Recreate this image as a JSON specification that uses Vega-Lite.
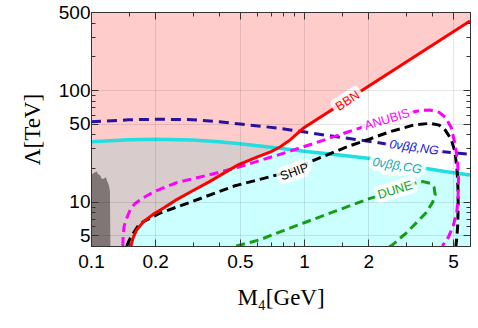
{
  "$schema": "https://vega.github.io/schema/vega-lite/v6.json",
  "width": 379,
  "height": 234,
  "autosize": {"type": "none"},
  "padding": {"left": 91, "top": 12, "right": 8, "bottom": 82},
  "background": "white",
  "config": {"view": {"stroke": "#3a3a3a", "strokeWidth": 1}},
  "datasets": {
    "bbn": [
      {"M": 0.1, "L": 4.0}, {"M": 0.154, "L": 4.0}, {"M": 0.158, "L": 4.8}, {"M": 0.164, "L": 5.6},
      {"M": 0.176, "L": 6.6}, {"M": 0.196, "L": 7.7}, {"M": 0.22, "L": 8.8}, {"M": 0.25, "L": 10.3},
      {"M": 0.3, "L": 12.5}, {"M": 0.36, "L": 15.1}, {"M": 0.42, "L": 18.0}, {"M": 0.49, "L": 21.3},
      {"M": 0.6, "L": 25.0}, {"M": 0.7, "L": 28.0}, {"M": 0.77, "L": 30.8}, {"M": 0.86, "L": 35.7},
      {"M": 0.99, "L": 45.4}, {"M": 6.0, "L": 415}
    ],
    "cg": [
      {"M": 0.1, "L": 34.4}, {"M": 0.15, "L": 35.8}, {"M": 0.2, "L": 36.2}, {"M": 0.3, "L": 35.6},
      {"M": 0.4, "L": 34.4}, {"M": 0.5, "L": 33.0}, {"M": 0.77, "L": 30.1}, {"M": 1.0, "L": 28.3},
      {"M": 1.5, "L": 26.0}, {"M": 2.04, "L": 24.3}, {"M": 2.7, "L": 22.3}, {"M": 3.5, "L": 20.2},
      {"M": 4.5, "L": 18.7}, {"M": 6.0, "L": 17.3}
    ],
    "overlap": [
      {"M": 0.1, "lo": 4.0, "hi": 34.4}, {"M": 0.15, "lo": 4.0, "hi": 35.8}, {"M": 0.154, "lo": 4.0, "hi": 35.85},
      {"M": 0.158, "lo": 4.8, "hi": 35.9}, {"M": 0.164, "lo": 5.6, "hi": 35.95}, {"M": 0.176, "lo": 6.6, "hi": 36.0},
      {"M": 0.196, "lo": 7.7, "hi": 36.15}, {"M": 0.2, "lo": 7.9, "hi": 36.2}, {"M": 0.22, "lo": 8.8, "hi": 36.1},
      {"M": 0.25, "lo": 10.3, "hi": 36.0}, {"M": 0.3, "lo": 12.5, "hi": 35.6}, {"M": 0.36, "lo": 15.1, "hi": 35.0},
      {"M": 0.4, "lo": 17.0, "hi": 34.4}, {"M": 0.42, "lo": 18.0, "hi": 34.1}, {"M": 0.49, "lo": 21.3, "hi": 33.1},
      {"M": 0.5, "lo": 21.7, "hi": 33.0}, {"M": 0.6, "lo": 25.0, "hi": 31.9}, {"M": 0.7, "lo": 28.0, "hi": 30.8},
      {"M": 0.755, "lo": 30.3, "hi": 30.3}
    ],
    "dark": [
      {"M": 0.1, "top": 17.3}, {"M": 0.103, "top": 18.0}, {"M": 0.1064, "top": 18.6}, {"M": 0.108, "top": 17.6},
      {"M": 0.11, "top": 17.3}, {"M": 0.112, "top": 16.2}, {"M": 0.114, "top": 15.9}, {"M": 0.1175, "top": 16.5},
      {"M": 0.119, "top": 15.2}, {"M": 0.12, "top": 14.8}, {"M": 0.1215, "top": 13.8}, {"M": 0.1227, "top": 12.3},
      {"M": 0.1233, "top": 4.0}
    ],
    "ng": [
      {"M": 0.1, "L": 52.0}, {"M": 0.15, "L": 54.0}, {"M": 0.2, "L": 54.7}, {"M": 0.3, "L": 54.2},
      {"M": 0.4, "L": 52.0}, {"M": 0.5, "L": 49.5}, {"M": 0.77, "L": 45.4}, {"M": 1.1, "L": 40.9},
      {"M": 1.5, "L": 37.5}, {"M": 2.0, "L": 34.8}, {"M": 3.0, "L": 30.8}, {"M": 4.35, "L": 28.1},
      {"M": 6.0, "L": 26.6}
    ],
    "anubis": [
      {"i": 1, "M": 0.141, "L": 4.0}, {"i": 2, "M": 0.1415, "L": 5.0}, {"i": 3, "M": 0.143, "L": 6.0},
      {"i": 4, "M": 0.1475, "L": 7.2}, {"i": 5, "M": 0.1525, "L": 8.4}, {"i": 6, "M": 0.16, "L": 9.5},
      {"i": 7, "M": 0.17, "L": 10.4}, {"i": 8, "M": 0.196, "L": 12.2}, {"i": 9, "M": 0.252, "L": 14.8},
      {"i": 10, "M": 0.36, "L": 17.4}, {"i": 11, "M": 0.49, "L": 20.3}, {"i": 12, "M": 0.77, "L": 26.5},
      {"i": 13, "M": 1.1, "L": 33.0}, {"i": 14, "M": 1.6, "L": 42.0}, {"i": 15, "M": 2.04, "L": 49.0},
      {"i": 16, "M": 2.93, "L": 60.5}, {"i": 17, "M": 3.5, "L": 65.5}, {"i": 18, "M": 3.9, "L": 66.2},
      {"i": 19, "M": 4.3, "L": 63.0}, {"i": 20, "M": 4.6, "L": 57.0}, {"i": 21, "M": 4.9, "L": 46.0},
      {"i": 22, "M": 5.12, "L": 32.0}, {"i": 23, "M": 5.25, "L": 22.0}, {"i": 24, "M": 5.3, "L": 16.0},
      {"i": 25, "M": 5.27, "L": 10.5}, {"i": 26, "M": 5.2, "L": 8.0}, {"i": 27, "M": 5.0, "L": 6.0},
      {"i": 28, "M": 4.75, "L": 4.8}, {"i": 29, "M": 4.45, "L": 4.0}
    ],
    "ship": [
      {"i": 1, "M": 0.147, "L": 4.0}, {"i": 2, "M": 0.152, "L": 4.6}, {"i": 3, "M": 0.158, "L": 5.2},
      {"i": 4, "M": 0.166, "L": 6.0}, {"i": 5, "M": 0.176, "L": 6.6}, {"i": 6, "M": 0.211, "L": 7.9},
      {"i": 7, "M": 0.302, "L": 10.1}, {"i": 8, "M": 0.47, "L": 13.8}, {"i": 9, "M": 0.77, "L": 17.6},
      {"i": 10, "M": 1.03, "L": 22.1}, {"i": 11, "M": 1.59, "L": 31.0}, {"i": 12, "M": 2.04, "L": 36.5},
      {"i": 13, "M": 2.5, "L": 42.0}, {"i": 14, "M": 3.26, "L": 48.5}, {"i": 15, "M": 3.9, "L": 50.3},
      {"i": 16, "M": 4.3, "L": 48.5}, {"i": 17, "M": 4.6, "L": 43.5}, {"i": 18, "M": 4.9, "L": 36.0},
      {"i": 19, "M": 5.1, "L": 28.0}, {"i": 20, "M": 5.22, "L": 19.0}, {"i": 21, "M": 5.27, "L": 13.0},
      {"i": 22, "M": 5.28, "L": 9.0}, {"i": 23, "M": 5.25, "L": 6.0}, {"i": 24, "M": 5.2, "L": 4.7},
      {"i": 25, "M": 5.15, "L": 4.0}
    ],
    "dune": [
      {"i": 1, "M": 0.48, "L": 4.0}, {"i": 2, "M": 0.62, "L": 4.55}, {"i": 3, "M": 0.8, "L": 5.5},
      {"i": 4, "M": 1.03, "L": 6.6}, {"i": 5, "M": 1.4, "L": 8.2}, {"i": 6, "M": 1.77, "L": 9.7},
      {"i": 7, "M": 2.04, "L": 10.7}, {"i": 8, "M": 2.44, "L": 11.9}, {"i": 9, "M": 2.93, "L": 13.4},
      {"i": 10, "M": 3.3, "L": 14.6}, {"i": 11, "M": 3.6, "L": 15.1}, {"i": 12, "M": 3.9, "L": 14.6},
      {"i": 13, "M": 4.07, "L": 13.4}, {"i": 14, "M": 4.12, "L": 11.5}, {"i": 15, "M": 4.0, "L": 9.8},
      {"i": 16, "M": 3.75, "L": 8.0}, {"i": 17, "M": 3.4, "L": 6.6}, {"i": 18, "M": 3.0, "L": 5.2},
      {"i": 19, "M": 2.6, "L": 4.1}, {"i": 20, "M": 2.5, "L": 3.9}
    ],
    "labels": [
      {"M": 1.6, "L": 80, "text": "BBN"},
      {"M": 2.45, "L": 54.5, "text": "ANUBIS"},
      {"M": 3.28, "L": 30.6, "text": "0νββ,NG"},
      {"M": 2.73, "L": 21, "text": "0νββ,CG"},
      {"M": 0.9, "L": 18.5, "text": "SHIP"},
      {"M": 2.67, "L": 12.7, "text": "DUNE"}
    ]
  },
  "layer": [
    {
      "layer": [
        {
          "data": {"name": "cg"},
          "mark": {"type": "area", "color": "#ccffff", "clip": true},
          "encoding": {
            "x": {
              "field": "M", "type": "quantitative",
              "scale": {"type": "log", "domain": [0.1, 6], "nice": false},
              "axis": {
                "orient": "bottom", "title": "M₄[GeV]",
                "values": [0.1, 0.15, 0.2, 0.3, 0.4, 0.5, 0.6, 0.7, 0.8, 0.9, 1, 1.5, 2, 3, 4, 5, 6],
                "format": "~g",
                "labelExpr": "indexof([0.1,0.2,0.5,1,2,5], datum.value) >= 0 ? datum.label : ''",
                "tickSize": {"condition": {"test": "indexof([0.1,0.2,0.5,1,2,5], datum.value) >= 0", "value": -7}, "value": -4},
                "grid": true, "gridColor": "#000000",
                "gridOpacity": {"condition": {"test": "indexof([0.2,0.5,1,2,5], datum.value) >= 0", "value": 0.1}, "value": 0},
                "labelFont": "Liberation Sans", "labelFontSize": 19, "labelColor": "#000000", "labelPadding": 13,
                "labelFlush": false, "labelOverlap": false,
                "tickColor": "#333333", "domainColor": "#333333",
                "titleFont": "Liberation Serif", "titleFontSize": 23, "titleFontWeight": "normal", "titleColor": "#000000", "titlePadding": 12,
                "zindex": 1
              }
            },
            "y": {
              "field": "L", "type": "quantitative",
              "scale": {"type": "log", "domain": [4, 500], "nice": false},
              "axis": {
                "orient": "left", "title": "Λ[TeV]",
                "values": [4, 5, 6, 7, 8, 9, 10, 20, 30, 40, 50, 60, 70, 80, 90, 100, 200, 300, 400, 500],
                "format": "~g",
                "labelExpr": "indexof([5,10,50,100,500], datum.value) >= 0 ? datum.label : ''",
                "tickSize": {"condition": {"test": "indexof([5,10,50,100,500], datum.value) >= 0", "value": -7}, "value": -4},
                "grid": true, "gridColor": "#000000",
                "gridOpacity": {"condition": {"test": "indexof([5,10,50,100], datum.value) >= 0", "value": 0.1}, "value": 0},
                "labelFont": "Liberation Sans", "labelFontSize": 19, "labelColor": "#000000", "labelPadding": 8,
                "labelFlush": false, "labelOverlap": false,
                "tickColor": "#333333", "domainColor": "#333333",
                "titleFont": "Liberation Serif", "titleFontSize": 23, "titleFontWeight": "normal", "titleColor": "#000000", "titlePadding": 14,
                "zindex": 1
              }
            },
            "y2": {"datum": 4}
          }
        },
        {
          "data": {"name": "bbn"},
          "mark": {"type": "area", "color": "#ffcccc", "clip": true},
          "encoding": {
            "x": {"field": "M", "type": "quantitative"},
            "y": {"field": "L", "type": "quantitative"},
            "y2": {"datum": 500}
          }
        },
        {
          "data": {"name": "overlap"},
          "mark": {"type": "area", "color": "#d9cccc", "clip": true},
          "encoding": {
            "x": {"field": "M", "type": "quantitative"},
            "y": {"field": "lo", "type": "quantitative"},
            "y2": {"field": "hi"}
          }
        },
        {
          "data": {"name": "dark"},
          "mark": {"type": "area", "color": "#807676", "clip": true},
          "encoding": {
            "x": {"field": "M", "type": "quantitative"},
            "y": {"field": "top", "type": "quantitative"},
            "y2": {"datum": 4}
          }
        },
        {
          "data": {"name": "cg"},
          "mark": {"type": "line", "color": "#22dede", "strokeWidth": 3.5, "clip": true},
          "encoding": {
            "x": {"field": "M", "type": "quantitative"},
            "y": {"field": "L", "type": "quantitative"}
          }
        },
        {
          "data": {"name": "ng"},
          "mark": {"type": "line", "color": "#2812a0", "strokeWidth": 3, "strokeDash": [10, 6], "clip": true},
          "encoding": {
            "x": {"field": "M", "type": "quantitative"},
            "y": {"field": "L", "type": "quantitative"}
          }
        },
        {
          "data": {"name": "dune"},
          "mark": {"type": "line", "color": "#14a014", "strokeWidth": 3, "strokeDash": [9, 5], "clip": true},
          "encoding": {
            "x": {"field": "M", "type": "quantitative"},
            "y": {"field": "L", "type": "quantitative"},
            "order": {"field": "i", "type": "quantitative"}
          }
        },
        {
          "data": {"name": "ship"},
          "mark": {"type": "line", "color": "#000000", "strokeWidth": 3, "strokeDash": [9, 5], "clip": true},
          "encoding": {
            "x": {"field": "M", "type": "quantitative"},
            "y": {"field": "L", "type": "quantitative"},
            "order": {"field": "i", "type": "quantitative"}
          }
        },
        {
          "data": {"name": "anubis"},
          "mark": {"type": "line", "color": "#ff00ff", "strokeWidth": 3, "strokeDash": [9, 5], "clip": true},
          "encoding": {
            "x": {"field": "M", "type": "quantitative"},
            "y": {"field": "L", "type": "quantitative"},
            "order": {"field": "i", "type": "quantitative"}
          }
        },
        {
          "data": {"name": "bbn"},
          "transform": [{"filter": "datum.M >= 0.154"}],
          "mark": {"type": "line", "color": "#ff0000", "strokeWidth": 3, "clip": true},
          "encoding": {
            "x": {"field": "M", "type": "quantitative"},
            "y": {"field": "L", "type": "quantitative"}
          }
        },
        {
          "data": {"name": "labels"},
          "transform": [{"filter": "datum.text == 'BBN'"}],
          "layer": [
            {"mark": {"type": "text", "angle": -33, "font": "Liberation Sans", "fontSize": 12.5, "color": "white", "stroke": "white", "strokeWidth": 9, "strokeOpacity": 0.85, "strokeJoin": "round"}},
            {"mark": {"type": "text", "angle": -33, "font": "Liberation Sans", "fontSize": 12.5, "color": "#ff0000"}}
          ],
          "encoding": {
            "x": {"field": "M", "type": "quantitative"},
            "y": {"field": "L", "type": "quantitative"},
            "text": {"field": "text"}
          }
        },
        {
          "data": {"name": "labels"},
          "transform": [{"filter": "datum.text == 'ANUBIS'"}],
          "layer": [
            {"mark": {"type": "text", "angle": -17, "font": "Liberation Sans", "fontSize": 12.5, "color": "white", "stroke": "white", "strokeWidth": 9, "strokeOpacity": 0.85, "strokeJoin": "round"}},
            {"mark": {"type": "text", "angle": -17, "font": "Liberation Sans", "fontSize": 12.5, "color": "#ff00ff"}}
          ],
          "encoding": {
            "x": {"field": "M", "type": "quantitative"},
            "y": {"field": "L", "type": "quantitative"},
            "text": {"field": "text"}
          }
        },
        {
          "data": {"name": "labels"},
          "transform": [{"filter": "datum.text == '0νββ,NG'"}],
          "layer": [
            {"mark": {"type": "text", "angle": 8, "font": "Liberation Sans", "fontStyle": "italic", "fontSize": 12.5, "color": "white", "stroke": "white", "strokeWidth": 9, "strokeOpacity": 0.85, "strokeJoin": "round"}},
            {"mark": {"type": "text", "angle": 8, "font": "Liberation Sans", "fontStyle": "italic", "fontSize": 12.5, "color": "#2020d8"}}
          ],
          "encoding": {
            "x": {"field": "M", "type": "quantitative"},
            "y": {"field": "L", "type": "quantitative"},
            "text": {"field": "text"}
          }
        },
        {
          "data": {"name": "labels"},
          "transform": [{"filter": "datum.text == '0νββ,CG'"}],
          "layer": [
            {"mark": {"type": "text", "angle": 9, "font": "Liberation Sans", "fontStyle": "italic", "fontSize": 12.5, "color": "white", "stroke": "white", "strokeWidth": 9, "strokeOpacity": 0.85, "strokeJoin": "round"}},
            {"mark": {"type": "text", "angle": 9, "font": "Liberation Sans", "fontStyle": "italic", "fontSize": 12.5, "color": "#1aa8b0"}}
          ],
          "encoding": {
            "x": {"field": "M", "type": "quantitative"},
            "y": {"field": "L", "type": "quantitative"},
            "text": {"field": "text"}
          }
        },
        {
          "data": {"name": "labels"},
          "transform": [{"filter": "datum.text == 'SHIP'"}],
          "layer": [
            {"mark": {"type": "text", "angle": -20, "font": "Liberation Sans", "fontSize": 12.5, "color": "white", "stroke": "white", "strokeWidth": 9, "strokeOpacity": 0.85, "strokeJoin": "round"}},
            {"mark": {"type": "text", "angle": -20, "font": "Liberation Sans", "fontSize": 12.5, "color": "#000000"}}
          ],
          "encoding": {
            "x": {"field": "M", "type": "quantitative"},
            "y": {"field": "L", "type": "quantitative"},
            "text": {"field": "text"}
          }
        },
        {
          "data": {"name": "labels"},
          "transform": [{"filter": "datum.text == 'DUNE'"}],
          "layer": [
            {"mark": {"type": "text", "angle": -17, "font": "Liberation Sans", "fontSize": 12.5, "color": "white", "stroke": "white", "strokeWidth": 9, "strokeOpacity": 0.85, "strokeJoin": "round"}},
            {"mark": {"type": "text", "angle": -17, "font": "Liberation Sans", "fontSize": 12.5, "color": "#14a014"}}
          ],
          "encoding": {
            "x": {"field": "M", "type": "quantitative"},
            "y": {"field": "L", "type": "quantitative"},
            "text": {"field": "text"}
          }
        }
      ]
    },
    {
      "data": {"name": "cg"},
      "mark": {"type": "line", "opacity": 0},
      "encoding": {
        "x": {
          "field": "M", "type": "quantitative",
          "scale": {"type": "log", "domain": [0.1, 6], "nice": false},
          "axis": {
            "orient": "top", "title": null, "labels": false, "grid": false,
            "values": [0.1, 0.15, 0.2, 0.3, 0.4, 0.5, 0.6, 0.7, 0.8, 0.9, 1, 1.5, 2, 3, 4, 5, 6],
            "tickSize": {"condition": {"test": "indexof([0.1,0.2,0.5,1,2,5], datum.value) >= 0", "value": -7}, "value": -4},
            "tickColor": "#333333", "domainColor": "#333333", "zindex": 1
          }
        },
        "y": {
          "field": "L", "type": "quantitative",
          "scale": {"type": "log", "domain": [4, 500], "nice": false},
          "axis": {
            "orient": "right", "title": null, "labels": false, "grid": false,
            "values": [4, 5, 6, 7, 8, 9, 10, 20, 30, 40, 50, 60, 70, 80, 90, 100, 200, 300, 400, 500],
            "tickSize": {"condition": {"test": "indexof([5,10,50,100,500], datum.value) >= 0", "value": -7}, "value": -4},
            "tickColor": "#333333", "domainColor": "#333333", "zindex": 1
          }
        }
      }
    }
  ],
  "resolve": {"axis": {"x": "independent", "y": "independent"}}
}
